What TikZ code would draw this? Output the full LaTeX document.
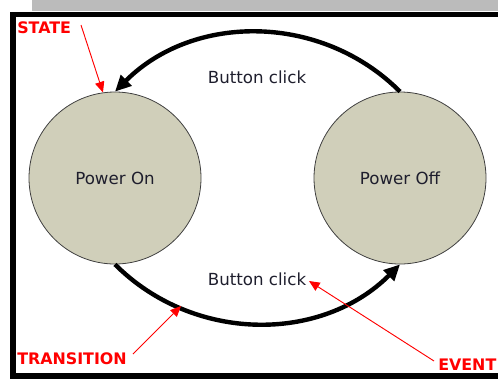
\documentclass[tikz,border=0pt]{standalone}
\usepackage{fontspec}
\setmainfont{DejaVu Sans}
\usetikzlibrary{arrows.meta}
\definecolor{statefill}{RGB}{208,207,186}
\definecolor{txt}{RGB}{30,30,45}
\definecolor{annot}{RGB}{255,0,0}
\definecolor{barcol}{RGB}{187,187,187}
\begin{document}
\begin{tikzpicture}[x=0.75pt,y=-0.75pt,
  statenode/.style={circle, draw=black!75, line width=0.6pt, fill=statefill,
    minimum size=129pt, inner sep=0pt, font=\fontsize{12.5}{15}\selectfont, text=txt},
  evlabel/.style={font=\fontsize{12.5}{15}\selectfont, text=txt, inner sep=0pt},
  transition/.style={line width=3.3pt, -{Triangle[length=12pt,width=11pt]}},
  note/.style={font=\bfseries\fontsize{11.9}{14}\selectfont, text=annot, inner sep=0pt},
  notearrow/.style={draw=annot, line width=0.7pt, -{Triangle[length=8pt,width=7pt]}}]
\useasboundingbox (0,0) rectangle (498,379);
% top grey bar and frame
\fill[barcol] (32,0) rectangle (498,11);
\fill[black] (10,12) rectangle (498,17);
\fill[black] (10,12) rectangle (16,379);
\fill[black] (10,373) rectangle (498,379);
% states
\node[statenode] (on) at (115,178) {Power On};
\node[statenode] (off) at (400,178) {Power Off};
% event labels
\node[evlabel] (ev1) at (257,77) {Button click};
\node[evlabel] (ev2) at (257,279) {Button click};
% transitions
\draw[transition] (off.north) to[bend right=45] (on.north);
\draw[transition] (on.south) to[bend right=45] (off.south);
% annotations
\node[note, anchor=west] (state) at (17,28) {STATE};
\coordinate (statefrom) at (81,25);
\draw[notearrow] (statefrom) -- (on.98);
\node[note, anchor=west] (trans) at (17,359) {TRANSITION};
\coordinate (transfrom) at (133,354);
\coordinate (transtip) at (181,306);
\draw[notearrow] (transfrom) -- (transtip);
\node[note, anchor=west] (event) at (438,365) {EVENT};
\coordinate (eventfrom) at (434,361);
\coordinate (eventtip) at (309,281);
\draw[notearrow] (eventfrom) -- (eventtip);
\end{tikzpicture}
\end{document}
